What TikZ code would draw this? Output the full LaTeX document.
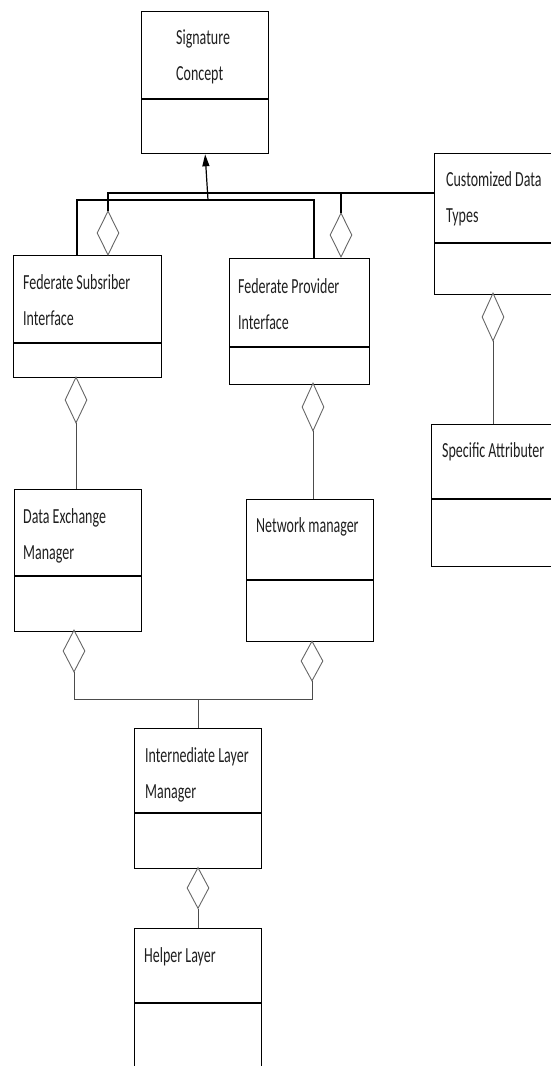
\documentclass[tikz,border=0pt]{standalone}
\usepackage{fontspec}
\newfontfamily\lblfont[FakeStretch=0.65]{Carlito}
\usetikzlibrary{shapes.geometric,arrows.meta}

% class box: name, left, top, right, bottom, y of the compartment divider
\newcommand\umlbox[6]{%
  \node[cls, minimum width={#4pt-#2pt}, minimum height={#5pt-#3pt}] (#1) at (#2,#3) {};
  \draw[divider] (#1.west |- 0,#6) -- (#1.east |- 0,#6);
}

\begin{document}
\begin{tikzpicture}[x=1pt,y=-1pt,
  cls/.style={draw=black, line width=1.3pt, inner sep=0pt, anchor=north west},
  divider/.style={draw=black, line width=1.3pt},
  % anchored at the baseline of the last line
  lbl/.style={anchor=base west, align=left, inner sep=0pt, text=black!88,
    font=\lblfont\fontsize{21.5}{35.5}\selectfont},
  agg/.style={diamond, draw=black!60, line width=0.9pt, inner sep=0pt, minimum width=22pt},
  link/.style={draw=black!70, line width=1pt},
  bus/.style={draw=black, line width=1.2pt},
]
\useasboundingbox (0,0) rectangle (551,1066);
\clip (0,0) rectangle (551,1066);

% classes
\umlbox{sig}{141}{11}{268}{153}{99}
\umlbox{cust}{434}{153}{560}{294}{243}
\umlbox{fsub}{13}{255}{161}{377}{343}
\umlbox{fprov}{229}{258}{369}{384}{347}
\umlbox{spec}{431}{424}{560}{566}{499}
\umlbox{dex}{14}{489}{141}{631}{576}
\umlbox{net}{246}{499}{373}{641}{580}
\umlbox{inter}{134}{728}{261}{868}{813}
\umlbox{help}{134}{928}{261}{1080}{1003}

% class names
\node[lbl] (sigT)   at (176,80)  {Signature\\Concept};
\node[lbl] (custT)  at (446,222) {Customized Data\\Types};
\node[lbl] (fsubT)  at (23,325)  {Federate Subsriber\\Interface};
\node[lbl] (fprovT) at (238,329) {Federate Provider\\Interface};
\node[lbl] (specT)  at (442,457) {Specific Attributer};
\node[lbl] (dexT)   at (23,559)  {Data Exchange\\Manager};
\node[lbl] (netT)   at (256,532) {Network manager};
\node[lbl] (interT) at (145,798) {Internediate Layer\\Manager};
\node[lbl] (helpT)  at (144,962) {Helper Layer};

% aggregation diamonds
\node[agg, minimum height=44pt] (d1) at (108,233) {};
\node[agg, minimum height=44pt] (d2) at (341,235) {};
\node[agg, minimum height=46pt] (d3) at (76,400) {};
\node[agg, minimum height=48pt] (d4) at (313,407) {};
\node[agg, minimum height=48pt] (d5) at (493,317) {};
\node[agg, minimum height=42pt] (d6) at (74,651) {};
\node[agg, minimum height=40pt] (d7) at (312,661) {};
\node[agg, minimum height=41pt] (d8) at (198,888) {};

% junction points
\coordinate (topbus) at (108,193);
\coordinate (lowL) at (77,200);
\coordinate (lowR) at (314,200);
\coordinate (lowM) at (208,200);
\coordinate (botL) at (74,699);
\coordinate (botR) at (312,699);
\coordinate (botM) at (198,699);

% upper bus: subscriber diamond -> customized data types, provider diamond
\draw[bus] (d1.north) -- (topbus) -- (topbus -| cust.west);
\draw[bus] (d2.north) -- (d2.north |- topbus);

% lower bus: both interfaces -> generalisation arrow
\draw[bus] (fsub.north -| lowL) -- (lowL) -- (lowR) -- (fprov.north -| lowR);
\draw[bus, -{Triangle[length=12pt,width=7pt]}] (lowM) -- (sig.south);

% interfaces to managers
\draw[link] (d3.south) -- (d3.south |- dex.north);
\draw[link] (d4.south) -- (d4.south |- net.north);
\draw[link] (d5.south) -- (d5.south |- spec.north);

% managers to intermediate layer
\draw[link] (d6.south) -- (botL) -- (botR) -- (d7.south);
\draw[link] (botM) -- (botM |- inter.north);

% intermediate layer to helper layer
\draw[link] (d8.south) -- (d8.south |- help.north);
\end{tikzpicture}
\end{document}
